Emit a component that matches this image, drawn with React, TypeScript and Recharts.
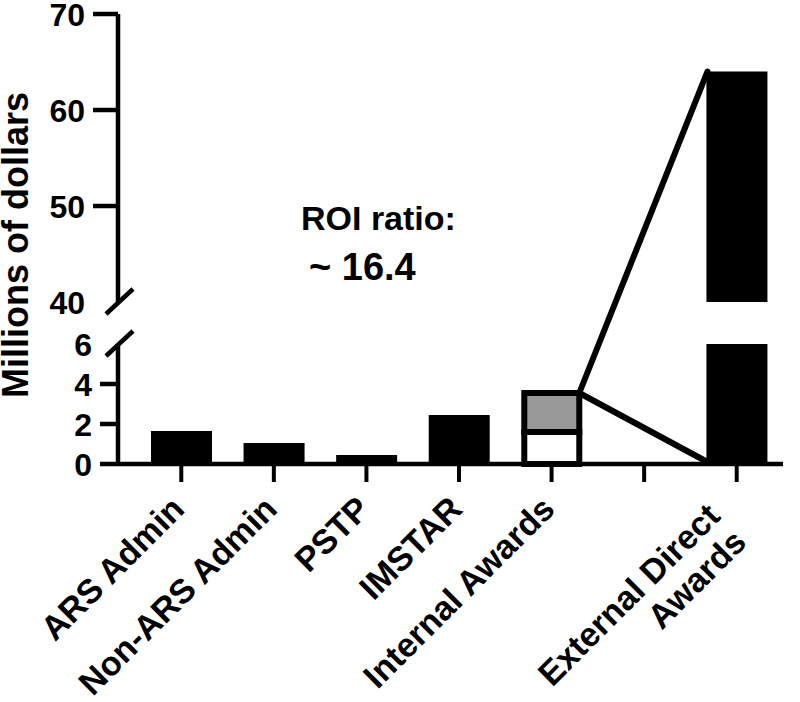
import React from "react";
import { Bar, BarChart, XAxis, YAxis } from "recharts";

const categories = [
  "ARS Admin",
  "Non-ARS Admin",
  "PSTP",
  "IMSTAR",
  "Internal Awards",
  "",
  "External Direct\nAwards",
];
const directCosts = [1.65, 1.05, 0.45, 2.45, null, null, 64];
const internalBase = [null, null, null, null, 1.6, null, null];
const internalGrey = [null, null, null, null, 2.1, null, null];
const lowerTicks = [0, 2, 4, 6];
const upperTicks = [40, 50, 60, 70];
const roiLines = ["ROI ratio:", "~ 16.4"];
const yTitle = "Millions of dollars";

// layout
const W = 800;
const H = 702;
const PLOT_LEFT = 118;
const PLOT_RIGHT = 783;
const PAD_LEFT = 17;
const UP_TOP = 14;
const UP_BOTTOM = 302;
const LOW_TOP = 344;
const LOW_BOTTOM = 464;
const LOW_DOMAIN: [number, number] = [0, 6];
const UP_DOMAIN: [number, number] = [40, 70];
const BAR = 61;
const FONT = "'Liberation Sans', Arial, sans-serif";

const band = (PLOT_RIGHT - PLOT_LEFT - PAD_LEFT) / categories.length;
const upperY = (v: number) =>
  UP_TOP + ((UP_DOMAIN[1] - v) / (UP_DOMAIN[1] - UP_DOMAIN[0])) * (UP_BOTTOM - UP_TOP);
const lowerY = (v: number) =>
  LOW_TOP + ((LOW_DOMAIN[1] - v) / (LOW_DOMAIN[1] - LOW_DOMAIN[0])) * (LOW_BOTTOM - LOW_TOP);

const intIdx = internalGrey.findIndex((v) => v != null);
const extIdx = directCosts.length - 1;

const lowerData = categories.map((name, i) => ({
  name,
  cost: directCosts[i] == null ? null : Math.min(directCosts[i] as number, LOW_DOMAIN[1]),
  base: internalBase[i],
  grey: internalGrey[i],
}));

const upperData = categories.map((name, i) => ({
  name,
  cost: directCosts[i] != null && (directCosts[i] as number) > UP_DOMAIN[0] ? directCosts[i] : null,
}));

function YTick(props: any) {
  const { x, y, payload, breakAt, len } = props;
  const v = payload.value;
  return (
    <g>
      {v === breakAt ? (
        <line x1={x - 12} y1={y + 12} x2={x + 15} y2={y - 13} stroke="#000" strokeWidth={4.5} />
      ) : (
        <line x1={x - len} y1={y} x2={x} y2={y} stroke="#000" strokeWidth={4.5} />
      )}
      <text
        x={x - len - 8}
        y={y}
        dy="0.36em"
        textAnchor="end"
        fontFamily={FONT}
        fontWeight={700}
        fontSize={32}
        fill="#000"
      >
        {v}
      </text>
    </g>
  );
}

function XTick(props: any) {
  const { x, y, payload } = props;
  if (!payload.value) return null;
  const lines = String(payload.value).split("\n");
  const multi = lines.length > 1;
  return (
    <g transform={`translate(${x + 5},${y + 29}) rotate(-45)`}>
      {lines.map((line, i) => (
        <text
          key={i}
          x={multi ? -19 : 0}
          y={multi ? -9 + i * 37 : 0}
          textAnchor="end"
          fontFamily={FONT}
          fontWeight={700}
          fontSize={34}
          fill="#000"
        >
          {line}
        </text>
      ))}
    </g>
  );
}

function OutlinedBase(props: any) {
  const { x, y, width, height } = props;
  if (!height || height <= 0) return null;
  return <rect x={x + 3} y={y} width={width - 6} height={height} fill="#fff" stroke="#000" strokeWidth={6} />;
}

function GreyWithConnectors(props: any) {
  const { x, y, width, height } = props;
  if (!height || height <= 0) return null;
  const cx = x + width - 3;
  const cy = y + 3;
  const extLeft = x + (extIdx - intIdx) * band;
  return (
    <g>
      <rect x={x + 3} y={y + 3} width={width - 6} height={height - 3} fill="#999" stroke="#000" strokeWidth={6} />
      <line x1={cx} y1={cy} x2={extLeft + 1} y2={upperY(directCosts[extIdx] as number)} stroke="#000" strokeWidth={6} strokeLinecap="round" />
      <line x1={cx} y1={cy} x2={extLeft + 1} y2={lowerY(0) - 2} stroke="#000" strokeWidth={6} strokeLinecap="round" />
    </g>
  );
}

export default function App() {
  return (
    <div style={{ position: "absolute", left: 0, top: 0, width: W, height: H, background: "#fff" }}>
      <div style={{ position: "absolute", left: 0, top: 0 }}>
        <BarChart width={W} height={H} data={lowerData} margin={{ top: LOW_TOP, right: W - PLOT_RIGHT, bottom: H - LOW_BOTTOM - 200, left: 0 }}>
          <XAxis
            dataKey="name"
            height={200}
            interval={0}
            padding={{ left: PAD_LEFT, right: 0 }}
            axisLine={{ stroke: "#000", strokeWidth: 4.5 }}
            tickLine={{ stroke: "#000", strokeWidth: 4 }}
            tickSize={18}
            tickMargin={0}
            tick={(p: any) => <XTick {...p} />}
          />
          <YAxis
            width={PLOT_LEFT}
            domain={LOW_DOMAIN}
            ticks={lowerTicks}
            interval={0}
            axisLine={{ stroke: "#000", strokeWidth: 4.5 }}
            tickLine={false}
            tickSize={0}
            tickMargin={0}
            tick={(p: any) => <YTick {...p} breakAt={LOW_DOMAIN[1]} len={18} />}
          />
          <Bar dataKey="cost" stackId="a" fill="#000" barSize={BAR} isAnimationActive={false} />
          <Bar dataKey="base" stackId="a" fill="#fff" barSize={BAR} shape={<OutlinedBase />} isAnimationActive={false} />
          <Bar dataKey="grey" stackId="a" fill="#999" barSize={BAR} shape={<GreyWithConnectors />} isAnimationActive={false} />
        </BarChart>
      </div>
      <div style={{ position: "absolute", left: 0, top: 0 }}>
        <BarChart width={W} height={H} data={upperData} margin={{ top: UP_TOP, right: W - PLOT_RIGHT, bottom: H - UP_BOTTOM, left: 0 }}>
          <XAxis dataKey="name" hide padding={{ left: PAD_LEFT, right: 0 }} />
          <YAxis
            width={PLOT_LEFT}
            domain={UP_DOMAIN}
            ticks={upperTicks}
            interval={0}
            axisLine={{ stroke: "#000", strokeWidth: 4.5 }}
            tickLine={false}
            tickSize={0}
            tickMargin={0}
            tick={(p: any) => <YTick {...p} breakAt={UP_DOMAIN[0]} len={25} />}
          />
          <Bar dataKey="cost" fill="#000" barSize={BAR} isAnimationActive={false} />
        </BarChart>
      </div>
      <svg width={W} height={H} style={{ position: "absolute", left: 0, top: 0, pointerEvents: "none" }}>
        <text
          transform="translate(28,245) rotate(-90)"
          textAnchor="middle"
          fontFamily={FONT}
          fontWeight={700}
          fontSize={36}
          fill="#000"
        >
          {yTitle}
        </text>
        <text x={301} y={230} fontFamily={FONT} fontWeight={700} fontSize={34} fill="#000">
          {roiLines[0]}
        </text>
        <text x={309} y={280} fontFamily={FONT} fontWeight={700} fontSize={38} fill="#000">
          {roiLines[1]}
        </text>
      </svg>
    </div>
  );
}
